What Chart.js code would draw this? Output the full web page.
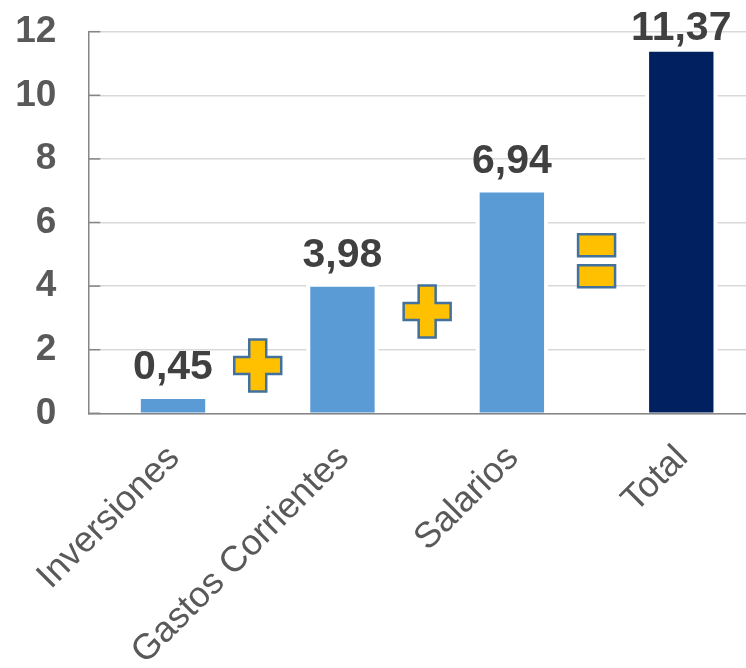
<!DOCTYPE html>
<html><head><meta charset="utf-8">
<script src="https://cdn.jsdelivr.net/npm/chart.js@4"></script>
<style>html,body{margin:0;padding:0;overflow:hidden;background:#fff}
#wrap{width:766px;height:668px;position:relative}</style>
</head><body><div id="wrap"><canvas id="c" width="766" height="668"></canvas></div>
<script>
const categories = ['Inversiones', 'Gastos Corrientes', 'Salarios', 'Total'];
const values = [0.45, 3.98, 6.94, 11.37];
const valueLabels = ['0,45', '3,98', '6,94', '11,37'];
const yTicks = [0, 2, 4, 6, 8, 10, 12];
const barColors = ['#5B9BD5', '#5B9BD5', '#5B9BD5', '#002060'];
const operators = ['+', '+', '='];
const operatorLevels = [1.5, 3.2, 4.8];

const FONT = "'Liberation Sans', Arial, sans-serif";

const decor = {
  id: 'decor',
  beforeDatasetsDraw(chart) {
    const ctx = chart.ctx;
    const meta = chart.getDatasetMeta(0);
    ctx.save();
    ctx.fillStyle = '#ffffff';
    meta.data.forEach(b => {
      const w = b.width;
      ctx.fillRect(b.x - w / 2 - 4, b.y - 4, w + 8, b.base - b.y + 3);
    });
    ctx.restore();
  },
  afterDatasetsDraw(chart) {
    const ctx = chart.ctx;
    const meta = chart.getDatasetMeta(0);
    const xs = chart.scales.x, ys = chart.scales.y;
    ctx.save();
    ctx.strokeStyle = '#868686';
    ctx.lineWidth = 1.5;
    yTicks.forEach(v => {
      const y = ys.getPixelForValue(v);
      ctx.beginPath();
      ctx.moveTo(xs.left, y);
      ctx.lineTo(xs.left + 12, y);
      ctx.stroke();
    });
    ctx.fillStyle = '#404040';
    ctx.font = 'bold 41px ' + FONT;
    ctx.textAlign = 'center';
    ctx.textBaseline = 'alphabetic';
    meta.data.forEach((b, i) => {
      ctx.fillText(valueLabels[i], b.x, Math.max(b.y - 20, 40));
    });
    operators.forEach((op, i) => {
      const cx = (xs.getPixelForValue(i) + xs.getPixelForValue(i + 1)) / 2;
      const cy = ys.getPixelForValue(operatorLevels[i]);
      ctx.fillStyle = '#FFC000';
      ctx.strokeStyle = '#41719C';
      ctx.lineWidth = 2.5;
      ctx.lineJoin = 'miter';
      if (op === '+') {
        const hw = 23.5, hh = 26, t = 8.5;
        ctx.beginPath();
        ctx.moveTo(cx - t, cy - hh);
        ctx.lineTo(cx + t, cy - hh);
        ctx.lineTo(cx + t, cy - t);
        ctx.lineTo(cx + hw, cy - t);
        ctx.lineTo(cx + hw, cy + t);
        ctx.lineTo(cx + t, cy + t);
        ctx.lineTo(cx + t, cy + hh);
        ctx.lineTo(cx - t, cy + hh);
        ctx.lineTo(cx - t, cy + t);
        ctx.lineTo(cx - hw, cy + t);
        ctx.lineTo(cx - hw, cy - t);
        ctx.lineTo(cx - t, cy - t);
        ctx.closePath();
        ctx.fill();
        ctx.stroke();
      } else {
        const w = 37, h = 22, gap = 9;
        [cy - gap / 2 - h, cy + gap / 2].forEach(top => {
          ctx.beginPath();
          ctx.rect(cx - w / 2, top, w, h);
          ctx.fill();
          ctx.stroke();
        });
      }
    });
    ctx.restore();
  }
};

new Chart(document.getElementById('c'), {
  type: 'bar',
  data: {
    labels: categories,
    datasets: [{
      data: values,
      backgroundColor: barColors,
      borderWidth: 0,
      categoryPercentage: 1,
      barPercentage: 0.38
    }]
  },
  options: {
    responsive: false,
    animation: false,
    devicePixelRatio: 1,
    layout: { padding: { top: 31.7, left: 0, right: 0, bottom: 0 } },
    plugins: { legend: { display: false }, tooltip: { enabled: false } },
    scales: {
      x: {
        grid: { display: false, drawTicks: false },
        border: { display: true, color: '#868686', width: 1.5 },
        ticks: {
          minRotation: 45, maxRotation: 45, autoSkip: false,
          color: '#595959',
          font: { family: FONT, size: 36 },
          padding: 24,
          labelOffset: 1
        },
        afterFit(s) { s.height = 668 - 413.3; s.paddingLeft = 0; s.paddingRight = 0; }
      },
      y: {
        min: 0, max: 12,
        grid: { color: '#D9D9D9', lineWidth: 1.5, drawTicks: false },
        border: { display: true, color: '#868686', width: 1.5 },
        ticks: {
          stepSize: 2,
          color: '#595959',
          font: { family: FONT, size: 37, weight: 'bold' },
          padding: 32
        },
        afterBuildTicks(s) { s.ticks = yTicks.map(v => ({ value: v })); },
        afterFit(s) { s.width = 88.3; s.paddingTop = 0; s.paddingBottom = 0; }
      }
    }
  },
  plugins: [decor]
});
</script></body></html>
